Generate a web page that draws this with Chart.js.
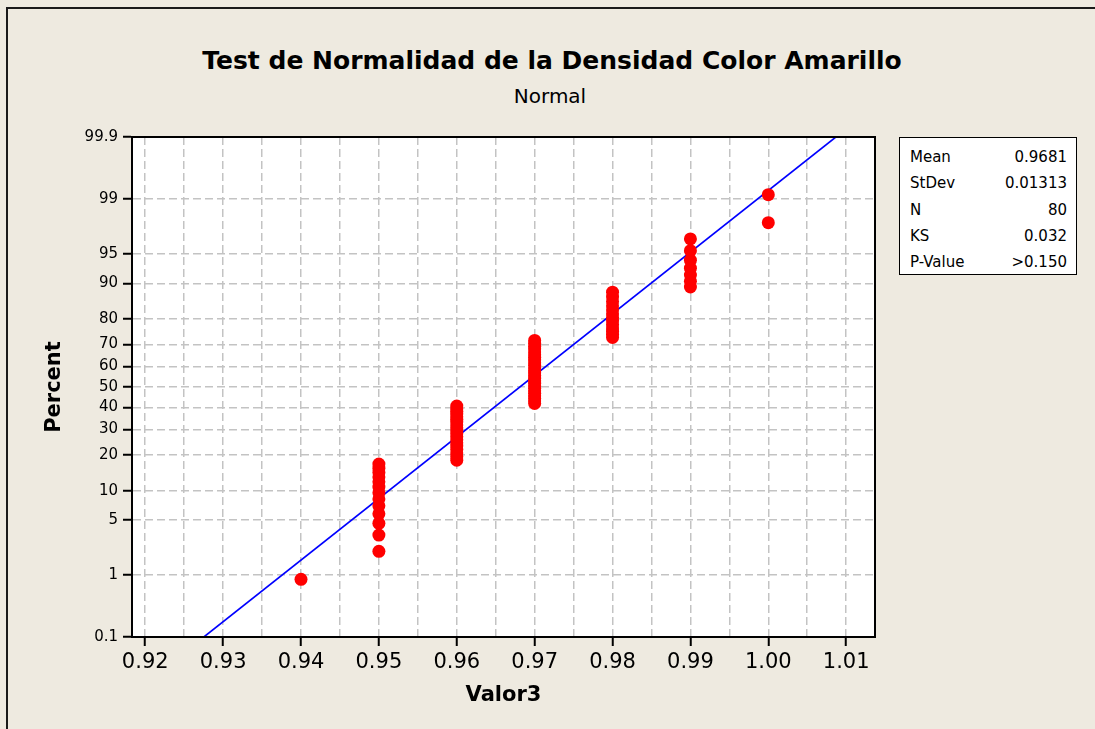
<!DOCTYPE html>
<html>
<head>
<meta charset="utf-8">
<title>Test de Normalidad de la Densidad Color Amarillo</title>
<script src="https://cdn.jsdelivr.net/npm/chart.js@4.4.0/dist/chart.umd.min.js"></script>
<style>
  html, body { margin: 0; padding: 0; overflow: hidden; }
  body { background: #EEEAE0; font-family: "DejaVu Sans", sans-serif; color: #000; }
  #page { position: relative; width: 1095px; height: 729px; overflow: hidden; }
  #frame {
    position: absolute; left: 6px; top: 7px; width: 1089px; height: 722px;
    box-sizing: border-box;
    border-left: 2px solid #1a1a1a; border-top: 2px solid #1a1a1a;
  }
  #chart { position: absolute; left: 0; top: 0; }
  .heading {
    position: absolute; left: 0; width: 1104px; text-align: center; white-space: nowrap;
  }
  #title { top: 46px; font-size: 25px; line-height: 30px; font-weight: bold; }
  #subtitle { top: 84px; font-size: 20px; line-height: 24px; width: 1100px; }
  #stats {
    position: absolute; left: 899px; top: 137px; width: 178px; height: 138px;
    box-sizing: border-box; border: 1px solid #000; background: #fff;
    padding: 6px 9px 0 10px; font-size: 15px;
  }
  #stats .row { display: flex; justify-content: space-between; height: 26.3px; line-height: 26.3px; }
</style>
</head>
<body>
<div id="page">
<div id="frame"></div>
<div id="title" class="heading">Test de Normalidad de la Densidad Color Amarillo</div>
<div id="subtitle" class="heading">Normal</div>
<canvas id="chart" width="1095" height="729"></canvas>
<div id="stats"></div>
</div>

<script>
// observed values and how many times each appears (N = 80)
const xValues = [0.94, 0.95, 0.96, 0.97, 0.98, 0.99, 1.00];
const xCounts = [1, 13, 19, 25, 13, 7, 2];

// fitted normal
const fitMean = 0.9681;
const fitStDev = 0.01313;

const statLabels = ['Mean', 'StDev', 'N', 'KS', 'P-Value'];
const statValues = ['0.9681', '0.01313', '80', '0.032', '>0.150'];

const yTickPercents = [0.1, 1, 5, 10, 20, 30, 40, 50, 60, 70, 80, 90, 95, 99, 99.9];
const yTickLabels = ['0.1', '1', '5', '10', '20', '30', '40', '50', '60', '70', '80', '90', '95', '99', '99.9'];

const xTickValues = [0.92, 0.925, 0.93, 0.935, 0.94, 0.945, 0.95, 0.955, 0.96, 0.965,
                     0.97, 0.975, 0.98, 0.985, 0.99, 0.995, 1.00, 1.005, 1.01];
const xTickLabels = ['0.92', '', '0.93', '', '0.94', '', '0.95', '', '0.96', '',
                     '0.97', '', '0.98', '', '0.99', '', '1.00', '', '1.01'];
const xMin = 0.9183;
const xMax = 1.0137;

// inverse of the standard normal cdf (Acklam)
function probit(p) {
  const a = [-3.969683028665376e+01, 2.209460984245205e+02, -2.759285104469687e+02,
             1.383577518672690e+02, -3.066479806614716e+01, 2.506628277459239e+00];
  const b = [-5.447609879822406e+01, 1.615858368580409e+02, -1.556989798598866e+02,
             6.680131188771972e+01, -1.328068155288572e+01];
  const c = [-7.784894002430293e-03, -3.223964580411365e-01, -2.400758277161838e+00,
             -2.549732539343734e+00, 4.374664141464968e+00, 2.938163982698783e+00];
  const d = [7.784695709041462e-03, 3.224671290700398e-01, 2.445134137142996e+00,
             3.754408661907416e+00];
  const pLow = 0.02425;
  let q, r;
  if (p < pLow) {
    q = Math.sqrt(-2 * Math.log(p));
    return (((((c[0]*q+c[1])*q+c[2])*q+c[3])*q+c[4])*q+c[5]) / ((((d[0]*q+d[1])*q+d[2])*q+d[3])*q+1);
  }
  if (p <= 1 - pLow) {
    q = p - 0.5; r = q * q;
    return (((((a[0]*r+a[1])*r+a[2])*r+a[3])*r+a[4])*r+a[5])*q / (((((b[0]*r+b[1])*r+b[2])*r+b[3])*r+b[4])*r+1);
  }
  q = Math.sqrt(-2 * Math.log(1 - p));
  return -(((((c[0]*q+c[1])*q+c[2])*q+c[3])*q+c[4])*q+c[5]) / ((((d[0]*q+d[1])*q+d[2])*q+d[3])*q+1);
}

// median ranks (i - 0.3) / (n + 0.4), put on the normal scale
const n = xCounts.reduce((s, c) => s + c, 0);
const points = [];
let rank = 0;
xValues.forEach((v, k) => {
  for (let j = 0; j < xCounts[k]; j++) {
    rank++;
    points.push({ x: v, y: probit((rank - 0.3) / (n + 0.4)) });
  }
});

const yMin = probit(yTickPercents[0] / 100);
const yMax = probit(yTickPercents[yTickPercents.length - 1] / 100);
const fitLine = [
  { x: fitMean + fitStDev * yMin, y: yMin },
  { x: fitMean + fitStDev * yMax, y: yMax }
];

document.getElementById('stats').innerHTML = statLabels.map((l, i) =>
  `<div class="row"><span>${l}</span><span>${statValues[i]}</span></div>`).join('');

const plotFrame = {
  id: 'plotFrame',
  beforeDraw(chart) {
    const { ctx, chartArea: a } = chart;
    ctx.save();
    ctx.fillStyle = '#fff';
    ctx.fillRect(a.left, a.top, a.right - a.left, a.bottom - a.top);
    ctx.restore();
  },
  afterDraw(chart) {
    const { ctx, chartArea: a } = chart;
    ctx.save();
    ctx.strokeStyle = '#000';
    ctx.lineWidth = 2;
    ctx.strokeRect(a.left, a.top, a.right - a.left, a.bottom - a.top);
    ctx.restore();
  }
};

const gridColor = '#C3C3C3';

new Chart(document.getElementById('chart'), {
  type: 'scatter',
  data: {
    datasets: [{
      data: points,
      backgroundColor: '#FF0000',
      borderWidth: 0,
      pointRadius: 6.5,
      pointHoverRadius: 6.5
    }, {
      data: fitLine,
      showLine: true,
      borderColor: '#0000FF',
      borderWidth: 1.6,
      pointRadius: 0,
      pointHoverRadius: 0
    }]
  },
  options: {
    responsive: false,
    animation: false,
    layout: { padding: { left: 42, right: 220, top: 137, bottom: 0 } },
    plugins: { legend: { display: false }, tooltip: { enabled: false } },
    scales: {
      x: {
        type: 'linear',
        min: xMin,
        max: xMax,
        afterBuildTicks: (scale) => { scale.ticks = xTickValues.map(v => ({ value: v })); },
        afterFit: (scale) => { scale.height = 92; },
        ticks: {
          autoSkip: false,
          maxRotation: 0,
          padding: 4,
          color: '#000',
          font: { family: 'DejaVu Sans', size: 21 },
          callback: (v, i) => xTickLabels[i]
        },
        grid: {
          color: gridColor,
          lineWidth: 1.5,
          tickLength: 9,
          tickWidth: 2,
          tickBorderDash: [],
          tickColor: (ctx) => xTickLabels[ctx.index] ? '#000' : 'rgba(0,0,0,0)'
        },
        border: { display: true, color: '#000', width: 2, dash: [8, 4] },
        title: {
          display: true,
          text: 'Valor3',
          color: '#000',
          font: { family: 'DejaVu Sans', size: 21, weight: 'bold' },
          padding: { top: 0, bottom: 21 }
        }
      },
      y: {
        type: 'linear',
        min: yMin,
        max: yMax,
        afterBuildTicks: (scale) => {
          scale.ticks = yTickPercents.map(p => ({ value: probit(p / 100) }));
        },
        afterFit: (scale) => { scale.width = 90; },
        ticks: {
          autoSkip: false,
          padding: 5,
          color: '#000',
          font: { family: 'DejaVu Sans', size: 15 },
          callback: (v, i) => yTickLabels[i]
        },
        grid: {
          color: gridColor,
          lineWidth: 1.5,
          tickLength: 9,
          tickWidth: 2,
          tickBorderDash: [],
          tickColor: '#000'
        },
        border: { display: true, color: '#000', width: 2, dash: [8, 4] },
        title: {
          display: true,
          text: 'Percent',
          color: '#000',
          font: { family: 'DejaVu Sans', size: 21, weight: 'bold' },
          padding: { top: 0, bottom: 0 }
        }
      }
    }
  },
  plugins: [plotFrame]
});
</script>
</body>
</html>
